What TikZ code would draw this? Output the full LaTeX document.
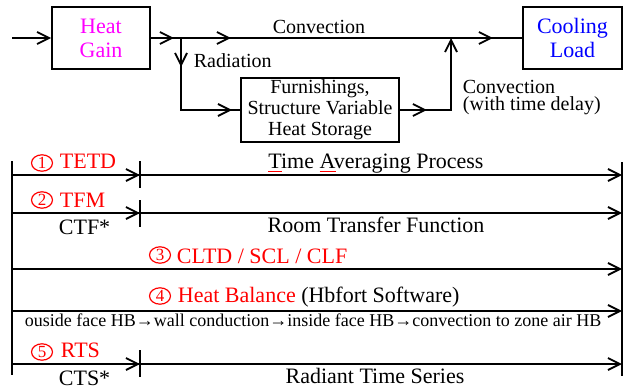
\documentclass[tikz,border=0pt]{standalone}
\usepackage{fontspec}
\setmainfont{Liberation Serif}
\usepackage{tikz}
\usetikzlibrary{arrows.meta,positioning,shapes.geometric,decorations.markings}

\definecolor{gainpink}{RGB}{255,0,255}
\definecolor{loadblue}{RGB}{0,0,255}
\definecolor{methred}{RGB}{255,0,0}

\newcommand{\redul}[1]{\sbox0{#1}\rlap{\color{methred}\rule[-2pt]{\wd0}{0.5pt}}#1}

\begin{document}
\begin{tikzpicture}[
    x=0.5pt, y=-0.5pt,
    >={Straight Barb[length=6pt,width=6pt]},
    line width=0.9pt,
    blockbox/.style={draw, minimum height=31pt, align=center, inner sep=0pt},
    lbl/.style={font=\fontsize{10}{8.5}\selectfont, inner sep=0pt},
    rowlbl/.style={font=\fontsize{11}{12}\selectfont, inner sep=0pt, anchor=base west},
    numring/.style={ellipse, draw=methred, line width=0.6pt, text=methred, font=\fontsize{8.5}{8.5}\selectfont, minimum width=10.5pt, minimum height=8.2pt, inner sep=0pt},
    arrowat/.style={postaction={decorate, decoration={markings, mark=at position #1 with {\arrow{>}}}}}
]
\useasboundingbox (0,0) rectangle (632,391);

\node[blockbox, minimum width=49pt, text=gainpink, font=\fontsize{11}{12}\selectfont] (gain) at (101,38) {Heat\\Gain};
\node[blockbox, minimum width=49.5pt, text=loadblue, font=\fontsize{11}{12}\selectfont] (load) at (572.5,38) {Cooling\\Load};
\node[blockbox, minimum width=79pt, minimum height=32pt, font=\fontsize{10}{10.5}\selectfont] (store) at (320,110) {Furnishings,\\Structure Variable\\Heat Storage};

\coordinate (in) at (12,38);
\coordinate (split) at (181,38);
\coordinate (merge) at (451,38);

\draw[->] (in) -- (gain);
\draw[arrowat=11.5pt, arrowat=40pt, arrowat=171pt] (gain) -- (load);
\draw[arrowat=14.5pt, arrowat=61.5pt] (split) |- (store);
\draw[->, arrowat=13.5pt] (store) -| (merge);

\node[lbl, anchor=base] (conv) at (319,33) {Convection};
\node[lbl, anchor=base west] (rad) at (193,68) {Radiation};
\node[lbl, anchor=north west, align=left] (delay) at (462,79) {Convection\\(with time delay)};

\draw (12,161) -- (12,375);
\draw (622,162) -- (622,376);

\coordinate (tetdL) at (12,175);
\coordinate (tetdR) at (622,175);
\coordinate (tfmL) at (12,213);
\coordinate (tfmR) at (622,213);
\coordinate (cltdL) at (12,269);
\coordinate (cltdR) at (622,269);
\coordinate (hbL) at (12,311);
\coordinate (hbR) at (622,311);
\coordinate (rtsL) at (12,364);
\coordinate (rtsR) at (622,364);

\draw[->, arrowat=64pt] (tetdL) -- (tetdR);
\draw[->, arrowat=64pt] (tfmL) -- (tfmR);
\draw[->] (cltdL) -- (cltdR);
\draw[->] (hbL) -- (hbR);
\draw[->, arrowat=64pt] (rtsL) -- (rtsR);

\draw (140,161) -- (140,188);
\draw (140,200) -- (140,227);
\draw (140,350) -- (140,377);

\node[numring] (n1) at (42,163) {1};
\node[rowlbl, text=methred] (tetd) at (59,168) {TETD};
\node[rowlbl, anchor=base] (avg) at (376,168) {\redul{T}ime \redul{A}veraging Process};

\node[numring] (n2) at (42,200) {2};
\node[rowlbl, text=methred] (tfm) at (59,207) {TFM};
\node[rowlbl] (ctf) at (58,234) {CTF*};
\node[rowlbl, anchor=base] (roomtf) at (376,232) {Room Transfer Function};

\node[numring] (n3) at (160,255) {3};
\node[rowlbl, text=methred] (cltd) at (176,263) {CLTD / SCL / CLF};

\node[numring] (n4) at (160,296) {4};
\node[rowlbl] (hb) at (177,302) {\textcolor{methred}{Heat Balance} (Hbfort Software)};
\node[font=\fontsize{9}{9}\selectfont, anchor=base west, inner sep=0pt] (hbsteps) at (24,326) {ouside face HB→wall conduction→inside face HB→convection to zone air HB};

\node[numring] (n5) at (42,352) {5};
\node[rowlbl, text=methred] (rts) at (60,357) {RTS};
\node[rowlbl] (cts) at (58,385) {CTS*};
\node[rowlbl, anchor=base] (radts) at (375,383) {Radiant Time Series};
\end{tikzpicture}
\end{document}
